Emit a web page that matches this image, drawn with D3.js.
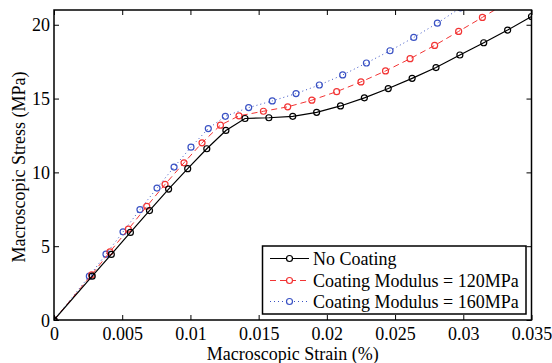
<!DOCTYPE html>
<html><head><meta charset="utf-8">
<script src="https://cdn.jsdelivr.net/npm/d3@7"></script>
<style>body{margin:0;background:#fff}svg{display:block}
svg text{font-family:"Liberation Serif","Times New Roman","DejaVu Serif",serif !important;}
</style>
</head><body>
<svg id="c" width="552" height="363"></svg>
<script>
const seriesNames = ["No Coating", "Coating Modulus = 120MPa", "Coating Modulus = 160MPa"];
const noCoatingX = [0, 0.0028, 0.0042, 0.0056, 0.0070, 0.0084, 0.0098, 0.0112, 0.0126, 0.0140, 0.01575, 0.0175, 0.01925, 0.0210, 0.02275, 0.0245, 0.02625, 0.0280, 0.02975, 0.0315, 0.03325, 0.0350];
const noCoatingY = [0, 2.97, 4.44, 5.93, 7.41, 8.87, 10.25, 11.6, 12.84, 13.65, 13.7, 13.8, 14.07, 14.5, 15.05, 15.68, 16.37, 17.1, 17.95, 18.78, 19.64, 20.56];
const mod120X = [0, 0.00276, 0.0041, 0.00545, 0.0068, 0.00814, 0.00953, 0.01085, 0.0122, 0.01356, 0.01535, 0.01713, 0.0189, 0.02072, 0.0225, 0.0243, 0.0261, 0.0279, 0.02966, 0.0314, 0.0332];
const mod120Y = [0, 3.06, 4.62, 6.15, 7.7, 9.19, 10.65, 12.0, 13.2, 13.83, 14.14, 14.44, 14.89, 15.47, 16.13, 16.87, 17.7, 18.6, 19.55, 20.5, 21.5];
const mod160X = [0, 0.00259, 0.00381, 0.00506, 0.0063, 0.00755, 0.0088, 0.01004, 0.01131, 0.01256, 0.01427, 0.016, 0.01774, 0.01945, 0.02116, 0.0229, 0.02463, 0.02637, 0.0281, 0.0298];
const mod160Y = [0, 2.97, 4.46, 5.97, 7.48, 8.94, 10.36, 11.71, 12.97, 13.8, 14.39, 14.84, 15.34, 15.92, 16.6, 17.41, 18.24, 19.14, 20.11, 21.15];
const xTicks = [0, 0.005, 0.01, 0.015, 0.02, 0.025, 0.03, 0.035];
const xTickLabels = ["0", "0.005", "0.01", "0.015", "0.02", "0.025", "0.03", "0.035"];
const yTicks = [0, 5, 10, 15, 20];
const yTickLabels = ["0", "5", "10", "15", "20"];

const L = 54, R = 531.5, T = 10, B = 320;
const svg = d3.select("#c");
const font = "Liberation Serif";
const x = d3.scaleLinear().domain([0, 0.035]).range([L, R]);
const y = d3.scaleLinear().domain([0, 21]).range([B, T]);

svg.append("defs").append("clipPath").attr("id", "clip")
  .append("rect").attr("x", L).attr("y", T).attr("width", R - L).attr("height", B - T);

const styles = [
  {color: "#000000", dash: null, w: 1.2},
  {color: "#f23434", dash: "6,4", w: 1},
  {color: "#3a52c4", dash: "1,3", w: 1}
];
const data = [
  noCoatingX.map((v, i) => [v, noCoatingY[i]]),
  mod120X.map((v, i) => [v, mod120Y[i]]),
  mod160X.map((v, i) => [v, mod160Y[i]])
];

const line = d3.line().x(d => x(d[0])).y(d => y(d[1]));
const g = svg.append("g").attr("clip-path", "url(#clip)");
[2, 1, 0].forEach(k => {
  const s = styles[k];
  g.append("path").datum(data[k]).attr("d", line)
    .attr("fill", "none").attr("stroke", s.color).attr("stroke-width", s.w)
    .attr("stroke-dasharray", s.dash);
  g.selectAll(null).data(data[k]).enter().append("circle")
    .attr("cx", d => x(d[0])).attr("cy", d => y(d[1])).attr("r", 3)
    .attr("fill", "none").attr("stroke", s.color).attr("stroke-width", 1.2);
});

const axB = svg.append("g").attr("transform", `translate(0,${B})`)
  .call(d3.axisBottom(x).tickValues(xTicks).tickFormat((d, i) => xTickLabels[i]).tickSize(-5).tickPadding(7));
const axT = svg.append("g").attr("transform", `translate(0,${T})`)
  .call(d3.axisTop(x).tickValues(xTicks).tickFormat("").tickSize(-5));
const axL = svg.append("g").attr("transform", `translate(${L},0)`)
  .call(d3.axisLeft(y).tickValues(yTicks).tickFormat((d, i) => yTickLabels[i]).tickSize(-5).tickPadding(4));
const axR = svg.append("g").attr("transform", `translate(${R},0)`)
  .call(d3.axisRight(y).tickValues(yTicks).tickFormat("").tickSize(-5));
[axB, axT, axL, axR].forEach(a => {
  a.attr("font-family", font).attr("font-size", 18);
  a.select(".domain").remove();
  a.selectAll("line").attr("stroke", "#000").attr("stroke-width", 1);
  a.selectAll("text").attr("font-family", font).attr("font-size", 18).attr("fill", "#000");
});
axL.selectAll("text").attr("dy", "0.34em");
svg.append("rect").attr("x", L).attr("y", T).attr("width", R - L).attr("height", B - T)
  .attr("fill", "none").attr("stroke", "#000").attr("stroke-width", 1.5);

svg.append("text").attr("x", (L + R) / 2).attr("y", 360).attr("text-anchor", "middle")
  .attr("font-family", font).attr("font-size", 18).text("Macroscopic Strain (%)");
svg.append("text").attr("transform", `translate(25,167) rotate(-90)`).attr("text-anchor", "middle")
  .attr("font-family", font).attr("font-size", 18).text("Macroscopic Stress (MPa)");

const lg = svg.append("g");
lg.append("rect").attr("x", 262.5).attr("y", 246).attr("width", 263.5).attr("height", 68)
  .attr("fill", "#fff").attr("stroke", "#000").attr("stroke-width", 1.5);
const rows = [258.5, 280.5, 301.5];
seriesNames.forEach((name, k) => {
  const s = styles[k];
  lg.append("line").attr("x1", 270).attr("x2", 309).attr("y1", rows[k]).attr("y2", rows[k])
    .attr("stroke", s.color).attr("stroke-width", s.w).attr("stroke-dasharray", s.dash);
  lg.append("circle").attr("cx", 289.5).attr("cy", rows[k]).attr("r", 3)
    .attr("fill", "#fff").attr("stroke", s.color).attr("stroke-width", 1.2);
  lg.append("text").attr("x", 313).attr("y", rows[k]).attr("dy", "0.34em")
    .attr("font-family", font).attr("font-size", 18).text(name);
});
</script>
</body></html>
